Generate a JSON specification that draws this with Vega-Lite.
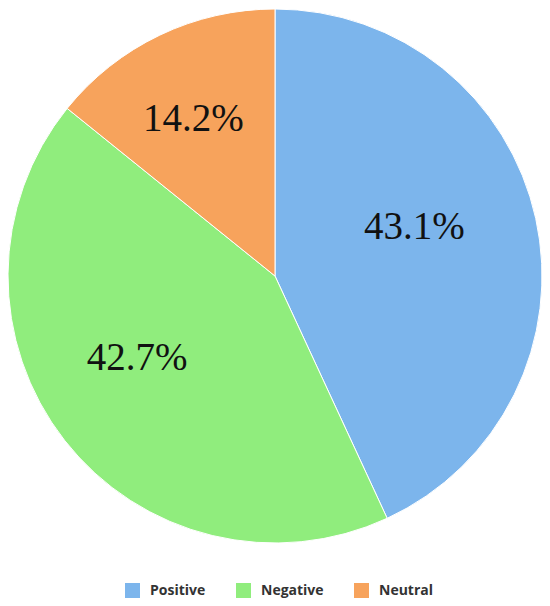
{
  "$schema": "https://vega.github.io/schema/vega-lite/v6.json",
  "width": 550,
  "height": 552,
  "padding": 0,
  "autosize": {"type": "pad"},
  "background": "white",
  "data": {"values": [
    {"sentiment": "Positive", "share": 43.1, "rank": 1},
    {"sentiment": "Negative", "share": 42.7, "rank": 2},
    {"sentiment": "Neutral", "share": 14.2, "rank": 3}
  ]},
  "encoding": {
    "theta": {"field": "share", "type": "quantitative", "stack": true},
    "order": {"field": "rank", "type": "quantitative"},
    "color": {
      "field": "sentiment",
      "type": "nominal",
      "scale": {"domain": ["Positive", "Negative", "Neutral"], "range": ["#7cb5ec", "#90ed7d", "#f7a35c"]},
      "legend": {
        "title": null,
        "orient": "none",
        "legendX": 125,
        "legendY": 583,
        "direction": "horizontal",
        "symbolType": "square",
        "symbolSize": 225,
        "symbolStrokeWidth": 0,
        "symbolOpacity": 1,
        "labelFont": "Open Sans",
        "labelFontWeight": "bold",
        "labelFontSize": 14,
        "labelColor": "#333333",
        "columnPadding": 30,
        "labelOffset": 10
      }
    }
  },
  "layer": [
    {"mark": {"type": "arc", "outerRadius": 267, "stroke": "white", "strokeWidth": 1}},
    {
      "mark": {"type": "text", "radius": 157, "dx": -14, "dy": -15, "font": "Liberation Serif", "fontSize": 39, "baseline": "middle", "align": "center"},
      "encoding": {
        "text": {"field": "label", "type": "nominal"},
        "color": {"value": "#111111"}
      },
      "transform": [{"calculate": "format(datum.share, '.1f') + '%'", "as": "label"}]
    }
  ],
  "config": {"view": {"stroke": null}}
}
